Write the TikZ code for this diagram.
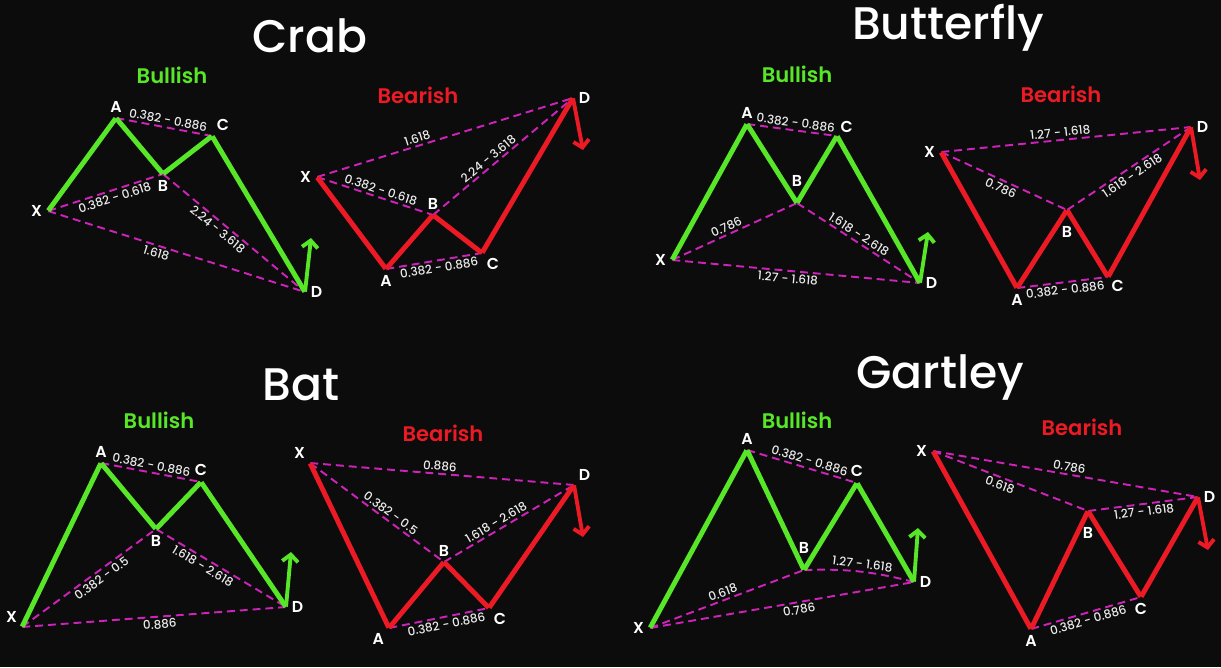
\documentclass[tikz,border=0pt]{standalone}
\usepackage{fontspec}
\setmainfont{Poppins}
\newfontfamily\titlefont{Poppins Medium}
\newfontfamily\headfont{Poppins SemiBold}
\usetikzlibrary{arrows.meta}
\definecolor{BgBlack}{RGB}{12,12,12}
\definecolor{BullGreen}{RGB}{88,230,40}
\definecolor{BearRed}{RGB}{236,26,36}
\definecolor{RatioPink}{RGB}{205,35,185}
\tikzset{
	v/.style={inner sep=0pt,minimum size=0pt},
	vl/.style={text=white,font=\headfont\fontsize{9}{10}\selectfont,inner sep=1pt,label distance=2pt},
	bull/.style={draw=BullGreen,line width=2.8pt},
	bear/.style={draw=BearRed,line width=2.8pt},
	ratio/.style={draw=RatioPink,line width=1.1pt,dash pattern=on 4.5pt off 2.8pt},
	rtext/.style={text=white!92!black,font=\titlefont\fontsize{6.8}{8}\selectfont,sloped,inner sep=1.2pt},
	trend/.style={font=\headfont\fontsize{12}{14}\selectfont},
	pname/.style={text=white,font=\titlefont\fontsize{26}{30}\selectfont},
	bullturn/.style={draw=BullGreen,line width=2.2pt,-{Straight Barb[length=4pt,width=9pt]}},
	bearturn/.style={draw=BearRed,line width=2.2pt,-{Straight Barb[length=4pt,width=9pt]}},
}

\begin{document}
\begin{tikzpicture}[x=0.02cm,y=-0.02cm]
	\fill[BgBlack] (0,0) rectangle (1221,667);
	\useasboundingbox (0,0) rectangle (1221,667);

	\node[pname] (crab) at (310,36) {Crab};
	\node[pname] (butterfly) at (948,28) {Butterfly};
	\node[pname] (bat) at (301,385) {Bat};
	\node[pname] (gartley) at (940,378) {Gartley};

	\node[trend,text=BullGreen] (crBull) at (172,75) {Bullish};
	\node[trend,text=BearRed] (cbBear) at (418,95) {Bearish};
	\node[trend,text=BullGreen] (buBull) at (797,74) {Bullish};
	\node[trend,text=BearRed] (bbBear) at (1061,94) {Bearish};
	\node[trend,text=BullGreen] (baBull) at (159,420) {Bullish};
	\node[trend,text=BearRed] (bxBear) at (443,433) {Bearish};
	\node[trend,text=BullGreen] (gaBull) at (797,420) {Bullish};
	\node[trend,text=BearRed] (gbBear) at (1082,427) {Bearish};

	\node[v,label={[vl]left:X}] (crX) at (48,211) {};
	\node[v,label={[vl]above:A}] (crA) at (116,118) {};
	\node[v,label={[vl]below:B}] (crB) at (163,174) {};
	\node[v,label={[vl]above right:C}] (crC) at (212,136) {};
	\node[v,label={[vl]right:D}] (crD) at (305,292) {};
	\coordinate (crT) at (311,238);
	\draw[ratio] (crA) -- node[rtext,above,pos=.53] {0.382 - 0.886} (crC);
	\draw[ratio] (crX) -- node[rtext,below,pos=.56] {0.382 - 0.618} (crB);
	\draw[ratio] (crB) -- node[rtext,below,pos=.42] {2.24 - 3.618} (crD);
	\draw[ratio] (crX) -- node[rtext,below,pos=.43] {1.618} (crD);
	\draw[bull] (crX) -- (crA) -- (crB) -- (crC) -- (crD);
	\draw[bullturn] (crD) -- (crT);

	\node[v,label={[vl]left:X}] (cbX) at (317,177) {};
	\node[v,label={[vl]below:A}] (cbA) at (386,269) {};
	\node[v,label={[vl]above:B}] (cbB) at (433,215) {};
	\node[v,label={[vl]below right:C}] (cbC) at (482,253) {};
	\node[v,label={[vl]right:D}] (cbD) at (573,98) {};
	\coordinate (cbT) at (583,150);
	\draw[ratio] (cbX) -- node[rtext,above,pos=.40] {1.618} (cbD);
	\draw[ratio] (cbX) -- node[rtext,above,pos=.53] {0.382 - 0.618} (cbB);
	\draw[ratio] (cbB) -- node[rtext,above,pos=.43] {2.24 - 3.618} (cbD);
	\draw[ratio] (cbA) -- node[rtext,below,pos=.54] {0.382 - 0.886} (cbC);
	\draw[bear] (cbX) -- (cbA) -- (cbB) -- (cbC) -- (cbD);
	\draw[bearturn] (cbD) -- (cbT);

	\node[v,label={[vl]left:X}] (buX) at (672,260) {};
	\node[v,label={[vl]above:A}] (buA) at (747,124) {};
	\node[v,label={[vl,label distance=8pt]above:B}] (buB) at (797,203) {};
	\node[v,label={[vl,label distance=1pt]above right:C}] (buC) at (837,136) {};
	\node[v,label={[vl]right:D}] (buD) at (920,283) {};
	\coordinate (buT) at (928,232);
	\draw[ratio] (buA) -- node[rtext,above,pos=.53] {0.382 - 0.886} (buC);
	\draw[ratio] (buX) -- node[rtext,above,pos=.46] {0.786} (buB);
	\draw[ratio] (buB) -- node[rtext,above,pos=.47] {1.618 - 2.618} (buD);
	\draw[ratio] (buX) -- node[rtext,below,pos=.47] {1.27 - 1.618} (buD);
	\draw[bull] (buX) -- (buA) -- (buB) -- (buC) -- (buD);
	\draw[bullturn] (buD) -- (buT);

	\node[v,label={[vl]left:X}] (bbX) at (941,152) {};
	\node[v,label={[vl]below:A}] (bbA) at (1017,288) {};
	\node[v,label={[vl,label distance=8pt]below:B}] (bbB) at (1067,210) {};
	\node[v,label={[vl,label distance=1pt]below right:C}] (bbC) at (1108,277) {};
	\node[v,label={[vl]right:D}] (bbD) at (1191,127) {};
	\coordinate (bbT) at (1200,180);
	\draw[ratio] (bbX) -- node[rtext,above,pos=.48] {1.27 - 1.618} (bbD);
	\draw[ratio] (bbX) -- node[rtext,below,pos=.50] {0.786} (bbB);
	\draw[ratio] (bbB) -- node[rtext,below,pos=.49] {1.618 - 2.618} (bbD);
	\draw[ratio] (bbA) -- node[rtext,below,pos=.52] {0.382 - 0.886} (bbC);
	\draw[bear] (bbX) -- (bbA) -- (bbB) -- (bbC) -- (bbD);
	\draw[bearturn] (bbD) -- (bbT);

	\node[v,label={[vl]above left:X}] (baX) at (22,627) {};
	\node[v,label={[vl]above:A}] (baA) at (101,463) {};
	\node[v,label={[vl]below:B}] (baB) at (156,529) {};
	\node[v,label={[vl]above:C}] (baC) at (201,482) {};
	\node[v,label={[vl]right:D}] (baD) at (286,607) {};
	\coordinate (baT) at (291,552);
	\draw[ratio] (baA) -- node[rtext,above,pos=.49] {0.382 - 0.886} (baC);
	\draw[ratio] (baX) -- node[rtext,below,pos=.56] {0.382 - 0.5} (baB);
	\draw[ratio] (baB) -- node[rtext,below,pos=.39] {1.618 - 2.618} (baD);
	\draw[ratio] (baX) -- node[rtext,below,pos=.52] {0.886} (baD);
	\draw[bull] (baX) -- (baA) -- (baB) -- (baC) -- (baD);
	\draw[bullturn] (baD) -- (baT);

	\node[v,label={[vl]above left:X}] (bxX) at (310,463) {};
	\node[v,label={[vl]below left:A}] (bxA) at (389,628) {};
	\node[v,label={[vl]above:B}] (bxB) at (444,562) {};
	\node[v,label={[vl]below right:C}] (bxC) at (489,608) {};
	\node[v,label={[vl]above right:D}] (bxD) at (574,485) {};
	\coordinate (bxT) at (583,537);
	\draw[ratio] (bxX) -- node[rtext,above,pos=.49] {0.886} (bxD);
	\draw[ratio] (bxX) -- node[rtext,above,pos=.57] {0.382 - 0.5} (bxB);
	\draw[ratio] (bxB) -- node[rtext,above,pos=.43] {1.618 - 2.618} (bxD);
	\draw[ratio] (bxA) -- node[rtext,below,pos=.56] {0.382 - 0.886} (bxC);
	\draw[bear] (bxX) -- (bxA) -- (bxB) -- (bxC) -- (bxD);
	\draw[bearturn] (bxD) -- (bxT);

	\node[v,label={[vl]left:X}] (gaX) at (650,628) {};
	\node[v,label={[vl]above:A}] (gaA) at (747,450) {};
	\node[v,label={[vl,label distance=8pt]above:B}] (gaB) at (804,570) {};
	\node[v,label={[vl]above:C}] (gaC) at (857,483) {};
	\node[v,label={[vl]right:D}] (gaD) at (914,582) {};
	\coordinate (gaT) at (918,528);
	\draw[ratio] (gaA) -- node[rtext,above,pos=.55] {0.382 - 0.886} (gaC);
	\draw[ratio] (gaX) -- node[rtext,above,pos=.49] {0.618} (gaB);
	\draw[ratio] (gaB) to[bend left=8] node[rtext,above,pos=.52] {1.27 - 1.618} (gaD);
	\draw[ratio] (gaX) -- node[rtext,below,pos=.56] {0.786} (gaD);
	\draw[bull] (gaX) -- (gaA) -- (gaB) -- (gaC) -- (gaD);
	\draw[bullturn] (gaD) -- (gaT);

	\node[v,label={[vl]left:X}] (gbX) at (933,451) {};
	\node[v,label={[vl]below:A}] (gbA) at (1031,629) {};
	\node[v,label={[vl,label distance=8pt]below:B}] (gbB) at (1088,511) {};
	\node[v,label={[vl]below:C}] (gbC) at (1141,597) {};
	\node[v,label={[vl]right:D}] (gbD) at (1198,497) {};
	\coordinate (gbT) at (1208,550);
	\draw[ratio] (gbX) -- node[rtext,above,pos=.51] {0.786} (gbD);
	\draw[ratio] (gbX) -- node[rtext,below,pos=.45] {0.618} (gbB);
	\draw[ratio] (gbB) -- node[rtext,below,pos=.50] {1.27 - 1.618} (gbD);
	\draw[ratio] (gbA) -- node[rtext,below,pos=.50] {0.382 - 0.886} (gbC);
	\draw[bear] (gbX) -- (gbA) -- (gbB) -- (gbC) -- (gbD);
	\draw[bearturn] (gbD) -- (gbT);
\end{tikzpicture}
\end{document}
